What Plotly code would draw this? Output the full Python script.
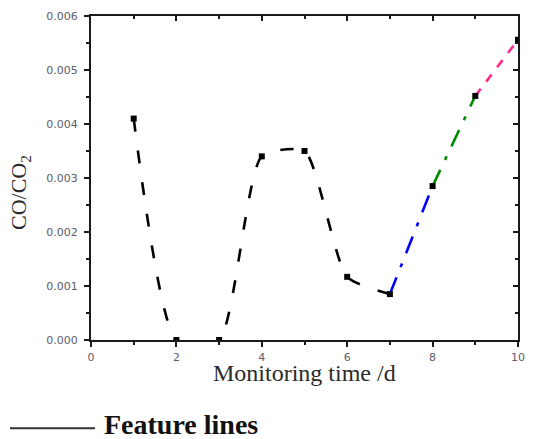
import plotly.graph_objects as go

# ---- data ----
days = [1, 2, 3, 4, 5, 6, 7, 8, 9, 10]
co_ratio = [0.0041, 0.0, 0.0, 0.0034, 0.0035, 0.00117, 0.00085, 0.00285, 0.00452, 0.00556]

trend_days = days[:7]
trend_ratio = co_ratio[:7]

feature_starts = [7, 8, 9]
feature_colors = ["#0000FF", "#008A00", "#FF2A8C"]

x_ticks = [0, 2, 4, 6, 8, 10]
y_ticks = [0.000, 0.001, 0.002, 0.003, 0.004, 0.005, 0.006]

fig = go.Figure()

# smoothed trend curve (black, dashed)
fig.add_trace(go.Scatter(
    x=trend_days, y=trend_ratio, mode="lines",
    line=dict(color="black", width=2.6, shape="spline", smoothing=0.6, dash="13px,19px"),
    showlegend=False, hoverinfo="skip"))

# feature lines
dashes = ["18px,11px,4px,11px", "18px,11px,4px,11px", "9px,9px"]
for start, color, dash in zip(feature_starts, feature_colors, dashes):
    i = days.index(start)
    fig.add_trace(go.Scatter(
        x=days[i:i + 2], y=co_ratio[i:i + 2], mode="lines",
        line=dict(color=color, width=2.6, dash=dash),
        showlegend=False))

# data points (drawn on the mirrored axes, which share the same ranges)
fig.add_trace(go.Scatter(
    x=days, y=co_ratio, mode="markers", xaxis="x2", yaxis="y2",
    marker=dict(symbol="square", size=6, color="black"),
    showlegend=False))

tickfont = dict(family="DejaVu Sans", size=11, color="#5c5c6c")
axis_common = dict(showgrid=False, zeroline=False, showline=True,
                   linecolor="#1a1a1a", linewidth=2, automargin=False)
major = dict(ticklen=5, tickwidth=1.5, tickcolor="#1a1a1a")
minor_style = dict(ticklen=3, tickwidth=1.5, tickcolor="#1a1a1a")

# page body adds an 8px offset; figure is sized so it fits the 534x439 window
fig.update_layout(
    width=518, height=431,
    margin=dict(l=83, r=8, t=8, b=99, autoexpand=False),
    paper_bgcolor="white", plot_bgcolor="white",
    xaxis=dict(range=[0, 10], tickvals=x_ticks, ticks="outside",
               minor=dict(dtick=1, tick0=0, ticks="outside", **minor_style),
               tickfont=tickfont, ticklabelstandoff=1, ticklabeloverflow="allow",
               **major, **axis_common),
    yaxis=dict(range=[0, 0.006], tickvals=y_ticks, tickformat=".3f",
               ticks="outside",
               minor=dict(dtick=0.0005, tick0=0, ticks="outside", **minor_style),
               tickfont=tickfont, ticklabelstandoff=4, **major, **axis_common),
    xaxis2=dict(range=[0, 10], overlaying="x", side="top", tickvals=x_ticks,
                ticks="inside",
                minor=dict(dtick=1, tick0=0, ticks="inside", **minor_style),
                showticklabels=False, **major, **axis_common),
    yaxis2=dict(range=[0, 0.006], overlaying="y", side="right", tickvals=y_ticks,
                ticks="inside",
                minor=dict(dtick=0.0005, tick0=0, ticks="inside", **minor_style),
                showticklabels=False, **major, **axis_common),
)

# axis titles
fig.add_annotation(text="Monitoring time /d", xref="paper", yref="paper",
                   x=0.5, y=-0.101, xanchor="center", yanchor="middle",
                   showarrow=False,
                   font=dict(family="Liberation Serif", size=24, color="#2a2a2a"))
fig.add_annotation(text="CO/CO<sub>2</sub>", xref="paper", yref="paper",
                   x=-0.166, y=0.454, xanchor="center", yanchor="middle",
                   textangle=-90, showarrow=False,
                   font=dict(family="Liberation Serif", size=22, color="#2a2a2a"))

# legend-like key below the chart
fig.add_shape(type="line", xref="paper", yref="paper",
              x0=-0.1898, x1=0.0094, y0=-0.272, y1=-0.272,
              line=dict(color="#333333", width=2))
fig.add_annotation(text="<b>Feature lines</b>", xref="paper", yref="paper",
                   x=0.0258, y=-0.262, xanchor="left", yanchor="middle",
                   showarrow=False,
                   font=dict(family="Liberation Serif", size=28, color="#111111"))

fig.write_html("out.html")
